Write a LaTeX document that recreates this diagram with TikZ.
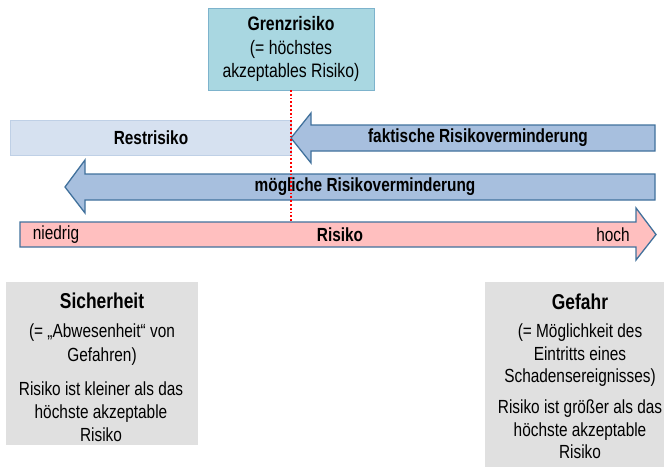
\documentclass[tikz,border=0pt]{standalone}
\usepackage{fontspec}
\setmainfont{Liberation Sans}[FakeStretch=0.81]
\definecolor{grenzfill}{HTML}{A9D7E1}
\definecolor{grenzdraw}{HTML}{7DB3CC}
\definecolor{restfill}{HTML}{D6E1F0}
\definecolor{restdraw}{HTML}{BFD0E6}
\definecolor{arrfill}{HTML}{A7BFDE}
\definecolor{arrdraw}{HTML}{41719C}
\definecolor{pinkfill}{HTML}{FFBFBF}
\definecolor{grayfill}{HTML}{E0E0E0}
\tikzset{
  txt/.style={font=\fontsize{19}{22}\selectfont, inner sep=0pt},
  btxt/.style={font=\fontsize{19}{22}\selectfont\bfseries, inner sep=0pt},
  boxtxt/.style={align=center, font=\fontsize{19}{22.5}\selectfont, inner sep=0pt},
  titletxt/.style={font=\fontsize{21.5}{24}\selectfont\bfseries, inner sep=0pt},
  blockarrow/.style={fill=arrfill, draw=arrdraw, line width=1.3pt, line join=miter},
}
\begin{document}
\begin{tikzpicture}[x=1pt,y=-1pt]
\useasboundingbox (0,0) rectangle (664,467);
% Grenzrisiko box
\draw[fill=grenzfill, draw=grenzdraw, line width=0.8pt] (208,8) rectangle (374,90);
\node[align=center, font=\fontsize{19.5}{23.5}\selectfont, inner sep=0pt] (grenz) at (291,49)
  {\textbf{Grenzrisiko}\\(= höchstes\\akzeptables Risiko)};
\coordinate (gbot) at (291,90);
% Restrisiko
\draw[fill=restfill, draw=restdraw, line width=0.8pt] (10,120) rectangle (291,155);
\node[btxt] (rest) at (151,138) {Restrisiko};
% faktische Risikoverminderung arrow
\draw[blockarrow] (655,125) -- (311,125) -- (311,113) -- (291,138) -- (311,163) -- (311,151) -- (655,151) -- cycle;
\node[btxt] (fakt) at (478,138) {faktische Risikoverminderung};
% mögliche Risikoverminderung arrow
\draw[blockarrow] (655,174) -- (85,174) -- (85,160) -- (65,187) -- (85,213) -- (85,200) -- (655,200) -- cycle;
\node[btxt] (moegl) at (365,187) {mögliche Risikoverminderung};
% Risiko arrow
\draw[fill=pinkfill, draw=arrdraw, line width=1.3pt, line join=miter] (20,222) -- (636,222) -- (636,208) -- (656,234.5) -- (636,260) -- (636,247) -- (20,247) -- cycle;
\node[txt] (niedrig) at (56,235) {niedrig};
\node[btxt] (risiko) at (340,235) {Risiko};
\node[txt] (hoch) at (613,235) {hoch};
% red dotted line
\coordinate (rbot) at (291,221);
\draw[red, line width=1.8pt, dotted] (gbot) -- (rbot);
% Sicherheit box
\fill[grayfill] (6,282) rectangle (198,445);
\node[titletxt] (sich) at (102,301) {Sicherheit};
\node[boxtxt, font=\fontsize{19}{24}\selectfont] (sich2) at (102,345) {(= „Abwesenheit“ von\\Gefahren)};
\node[boxtxt, font=\fontsize{19}{23}\selectfont] (sich3) at (101,412) {Risiko ist kleiner als das\\höchste akzeptable\\Risiko};
% Gefahr box
\fill[grayfill] (485,282) rectangle (664,467);
\node[titletxt] (gef) at (580,302) {Gefahr};
\node[boxtxt] (gef2) at (580,355.5) {(= Möglichkeit des\\Eintritts eines\\Schadensereignisses)};
\node[boxtxt] (gef3) at (580,429.5) {Risiko ist größer als das\\höchste akzeptable\\Risiko};
\end{tikzpicture}
\end{document}
